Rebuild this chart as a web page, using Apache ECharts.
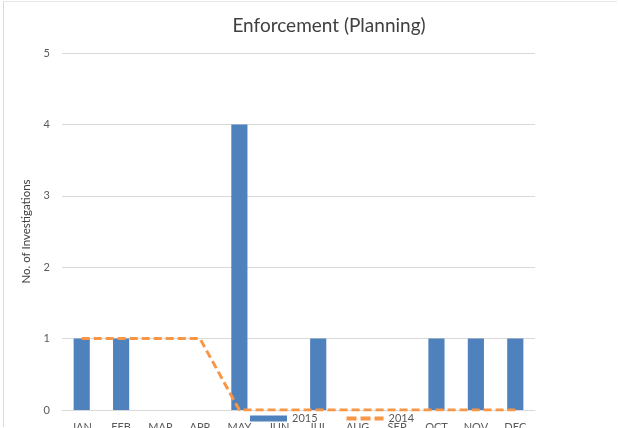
<!DOCTYPE html>
<html>
<head>
<meta charset="utf-8">
<script src="https://cdn.jsdelivr.net/npm/echarts@6/dist/echarts.min.js"></script>
<style>
html,body{margin:0;padding:0;background:#fff;overflow:hidden;width:618px;height:428px;}
#c{width:618px;height:428px;position:absolute;left:0;top:0;}
#frame{position:absolute;left:3px;top:1px;width:614px;height:426px;border-left:1px solid #d9d9d9;border-top:1px solid #e6e6e6;pointer-events:none;box-sizing:border-box;}
</style>
</head>
<body>
<div id="c"></div>
<div id="frame"></div>
<script>
const months = ['JAN','FEB','MAR','APR','MAY','JUN','JUL','AUG','SEP','OCT','NOV','DEC'];
const values2015 = [1,1,0,0,4,0,1,0,0,1,1,1];
const values2014 = [1,1,1,1,0,0,0,0,0,0,0,0];
const FONT = 'Lato';
const chart = echarts.init(document.getElementById('c'));
chart.setOption({
  animation:false,
  textStyle:{fontFamily:FONT},
  title:{text:'Enforcement (Planning)',left:324,top:11,textAlign:'center',
    textStyle:{fontFamily:FONT,fontSize:19,fontWeight:'normal',color:'#404040'}},
  legend:{left:245,top:408,itemGap:27,itemWidth:37,itemHeight:6,
    textStyle:{fontFamily:FONT,fontSize:11,color:'#595959'},
    data:[{name:'2015',icon:'rect'},{name:'2014',itemStyle:{opacity:0},lineStyle:{width:4,type:[10,4]}}]},
  grid:{left:62,right:83,top:53,bottom:18,containLabel:false,outerBoundsMode:'none'},
  xAxis:{type:'category',data:months,
    axisLine:{lineStyle:{color:'#d9d9d9'}},axisTick:{show:false},
    axisLabel:{color:'#595959',fontSize:11,margin:12}},
  yAxis:{type:'value',min:0,max:5,interval:1,name:'No. of Investigations',
    nameLocation:'middle',nameGap:19,nameRotate:90,
    nameTextStyle:{fontFamily:FONT,fontSize:11.5,color:'#404040'},
    axisLine:{show:false},axisTick:{show:false},
    axisLabel:{color:'#595959',fontSize:11,margin:12},
    splitLine:{lineStyle:{color:'#d9d9d9'}}},
  series:[
    {name:'2015',type:'bar',data:values2015,barWidth:'41%',
      itemStyle:{color:'#4f81bd'}},
    {name:'2014',type:'line',data:values2014,symbol:'none',
      lineStyle:{color:'#f79646',width:3,type:[8,4]},itemStyle:{color:'#f79646'}}
  ]
});
</script>
</body>
</html>
